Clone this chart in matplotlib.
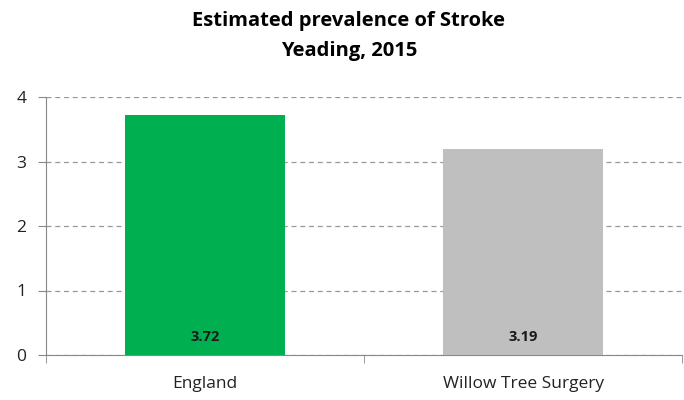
import matplotlib
matplotlib.use('Agg')
import matplotlib.pyplot as plt
import numpy as np

categories = ['England', 'Willow Tree Surgery']
values = [3.72, 3.19]
bar_colors = ['#00B050', '#BFBFBF']
yticks = [0, 1, 2, 3, 4]

plt.rcParams['font.family'] = ['Open Sans', 'DejaVu Sans']

fig = plt.figure(figsize=(6.84, 4.0), dpi=100)
ax = fig.add_axes([0.0673, 0.1125, 0.93, 0.645])

x = np.arange(len(categories))
ax.bar(x, values, width=0.505, color=bar_colors, zorder=3)
for xi, v in zip(x, values):
    ax.text(xi, 0.28, f'{v:.2f}', ha='center', va='center',
            fontsize=10.5, fontweight='bold', color='#1a1a1a', zorder=4)

ax.set_xlim(-0.5, len(categories) - 0.5)
ax.set_ylim(0, 4)
ax.set_yticks(yticks)
ax.yaxis.grid(True, linestyle=(0, (4, 3)), color='#999999', linewidth=0.9, zorder=0)

ax.set_xticks(x)
ax.set_xticklabels(categories, fontsize=12.5, color='#222222')
ax.tick_params(axis='x', length=0, pad=15)
# category separators on the x axis
ax.set_xticks(np.arange(len(categories) + 1) - 0.5, minor=True)
ax.tick_params(axis='x', which='minor', length=6, color='#888888')
ax.tick_params(axis='y', length=6, color='#888888', labelsize=12.5, labelcolor='#222222', pad=8)

for s in ['top', 'right']:
    ax.spines[s].set_visible(False)
for s in ['left', 'bottom']:
    ax.spines[s].set_color('#888888')

fig.text(0.51, 0.947, 'Estimated prevalence of Stroke', ha='center', va='center',
         fontsize=14.5, fontweight='bold')
fig.text(0.51, 0.872, 'Yeading, 2015', ha='center', va='center',
         fontsize=14.5, fontweight='bold')

fig.savefig('out.png', dpi=100)
